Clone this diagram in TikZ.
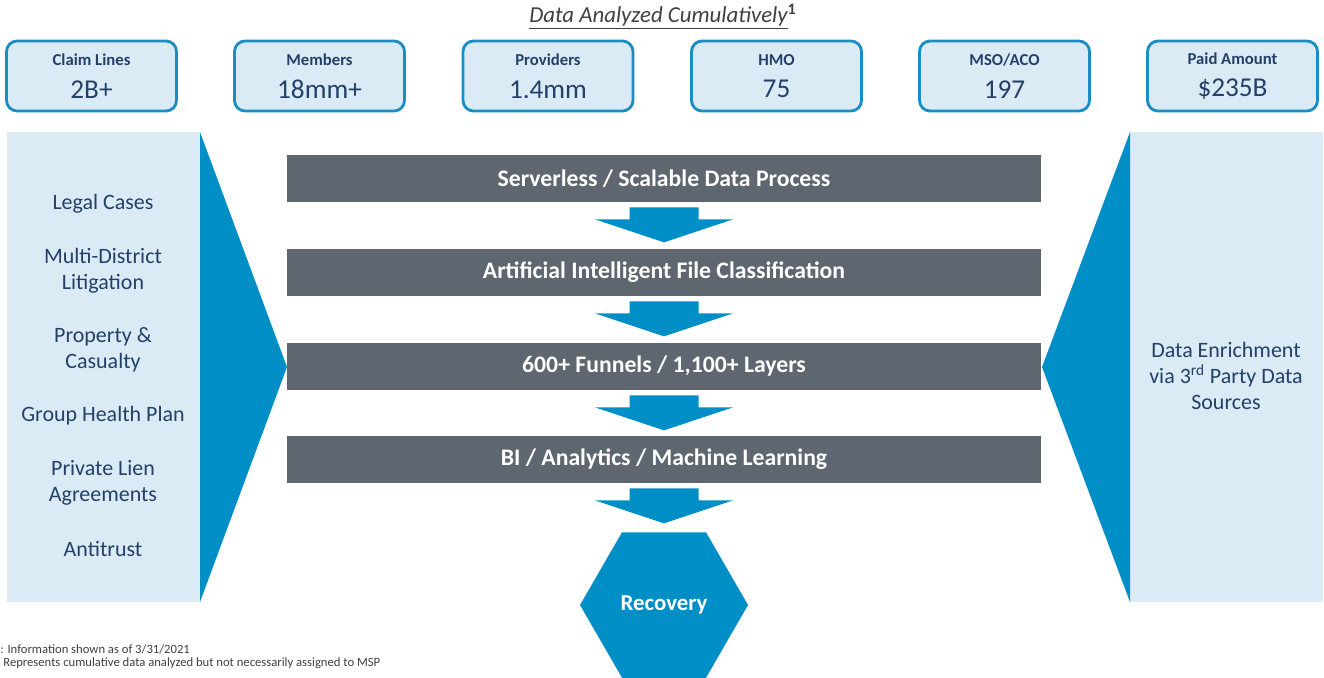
\documentclass[tikz,border=0pt]{standalone}
\usepackage{fontspec}
\setmainfont{Carlito}
\usetikzlibrary{calc,shapes.geometric}
\newcommand{\pix}{0.02cm}
\definecolor{panel}{RGB}{218,235,246}
\definecolor{frame}{RGB}{27,141,197}
\definecolor{deep}{RGB}{0,142,198}
\definecolor{slate}{RGB}{94,102,112}
\definecolor{ink}{RGB}{36,64,104}
\definecolor{note}{RGB}{64,64,64}

\begin{document}
\begin{tikzpicture}[x=\pix, y=-\pix,
    stat/.style={draw=frame, line width=1.6pt, fill=panel, rounded corners=6pt, minimum width=170*\pix, minimum height=70*\pix, inner sep=0pt, align=center, text=ink, font=\fontsize{15.5}{18.5}\selectfont},
    bar/.style={fill=slate, minimum width=754*\pix, minimum height=47*\pix, inner sep=0pt, text=white, font=\bfseries\fontsize{13.5}{16}\selectfont},
    side/.style={text=ink, align=center, font=\fontsize{12.5}{15}\selectfont},
    hexa/.style={regular polygon, regular polygon sides=6, fill=deep, minimum size=168*\pix, inner sep=0pt, text=white, font=\bfseries\fontsize{13}{15}\selectfont},
    foot/.style={anchor=west, inner sep=0pt, text=note, font=\fontsize{7.2}{8}\selectfont}]
    \useasboundingbox (0,0) rectangle (1324,677);

    % Title
    \node[text=note, font=\itshape\fontsize{13}{15}\selectfont] (title) at (663,17) {\underline{Data Analyzed Cumulatively}\textsuperscript{\upshape\bfseries 1}};

    % Top row
    \node[stat] (stat-1) at (91.5,76) {{\fontsize{9.5}{11}\selectfont\bfseries Claim Lines}\\2B+};
    \node[stat] (stat-2) at (319.5,76) {{\fontsize{9.5}{11}\selectfont\bfseries Members}\\18mm+};
    \node[stat] (stat-3) at (548,76) {{\fontsize{9.5}{11}\selectfont\bfseries Providers}\\1.4mm};
    \node[stat] (stat-4) at (776.5,76) {{\fontsize{9.5}{11}\selectfont\bfseries HMO}\\75};
    \node[stat] (stat-5) at (1004.5,76) {{\fontsize{9.5}{11}\selectfont\bfseries MSO/ACO}\\197};
    \node[stat] (stat-6) at (1232.5,76) {{\fontsize{9.5}{11}\selectfont\bfseries Paid Amount}\\\$235B};

    % Left panel
    \fill[panel] (7,132) rectangle (200,602);
    \fill[deep] (200,132) -- (287,367) -- (200,602) -- cycle;
    \node[side] (case-1) at (103,204) {Legal Cases};
    \node[side] (case-2) at (103,271) {Multi-District\\Litigation};
    \node[side] (case-3) at (103,350) {Property \&\\Casualty};
    \node[side] (case-4) at (103,416) {Group Health Plan};
    \node[side] (case-5) at (103,482.5) {Private Lien\\Agreements};
    \node[side] (case-6) at (103,549) {Antitrust};

    % Right panel
    \fill[panel] (1130,132) rectangle (1323,602);
    \fill[deep] (1130,132) -- (1042,367) -- (1130,602) -- cycle;
    \node[side] (enrich) at (1226,376) {Data Enrichment\\via 3\textsuperscript{rd} Party Data\\Sources};

    % Process steps
    \node[bar] (bar1) at (664,178.5) {Serverless / Scalable Data Process};
    \node[bar] (bar2) at (664,272.5) {Artificial Intelligent File Classification};
    \node[bar] (bar3) at (664,366.5) {600+ Funnels / 1,100+ Layers};
    \node[bar] (bar4) at (664,459.5) {BI / Analytics / Machine Learning};
    \node[hexa] (recovery) at (664,605) {Recovery};

    % Block arrows
    \foreach \b in {1,2,3,4}
        \fill[deep] ($(bar\b.south)+(-34.5,5)$) -- ++(69,0) -- ++(0,12) -- ++(34.5,0)
            -- ($(bar\b.south)+(0,40)$) -- ++(-69,-23) -- ++(34.5,0) -- cycle;

    % Notes
    \node[foot] (note-1) at (0,649) {: Information shown as of 3/31/2021};
    \node[foot] (note-2) at (3,663) {Represents cumulative data analyzed but not necessarily assigned to MSP};
\end{tikzpicture}
\end{document}
